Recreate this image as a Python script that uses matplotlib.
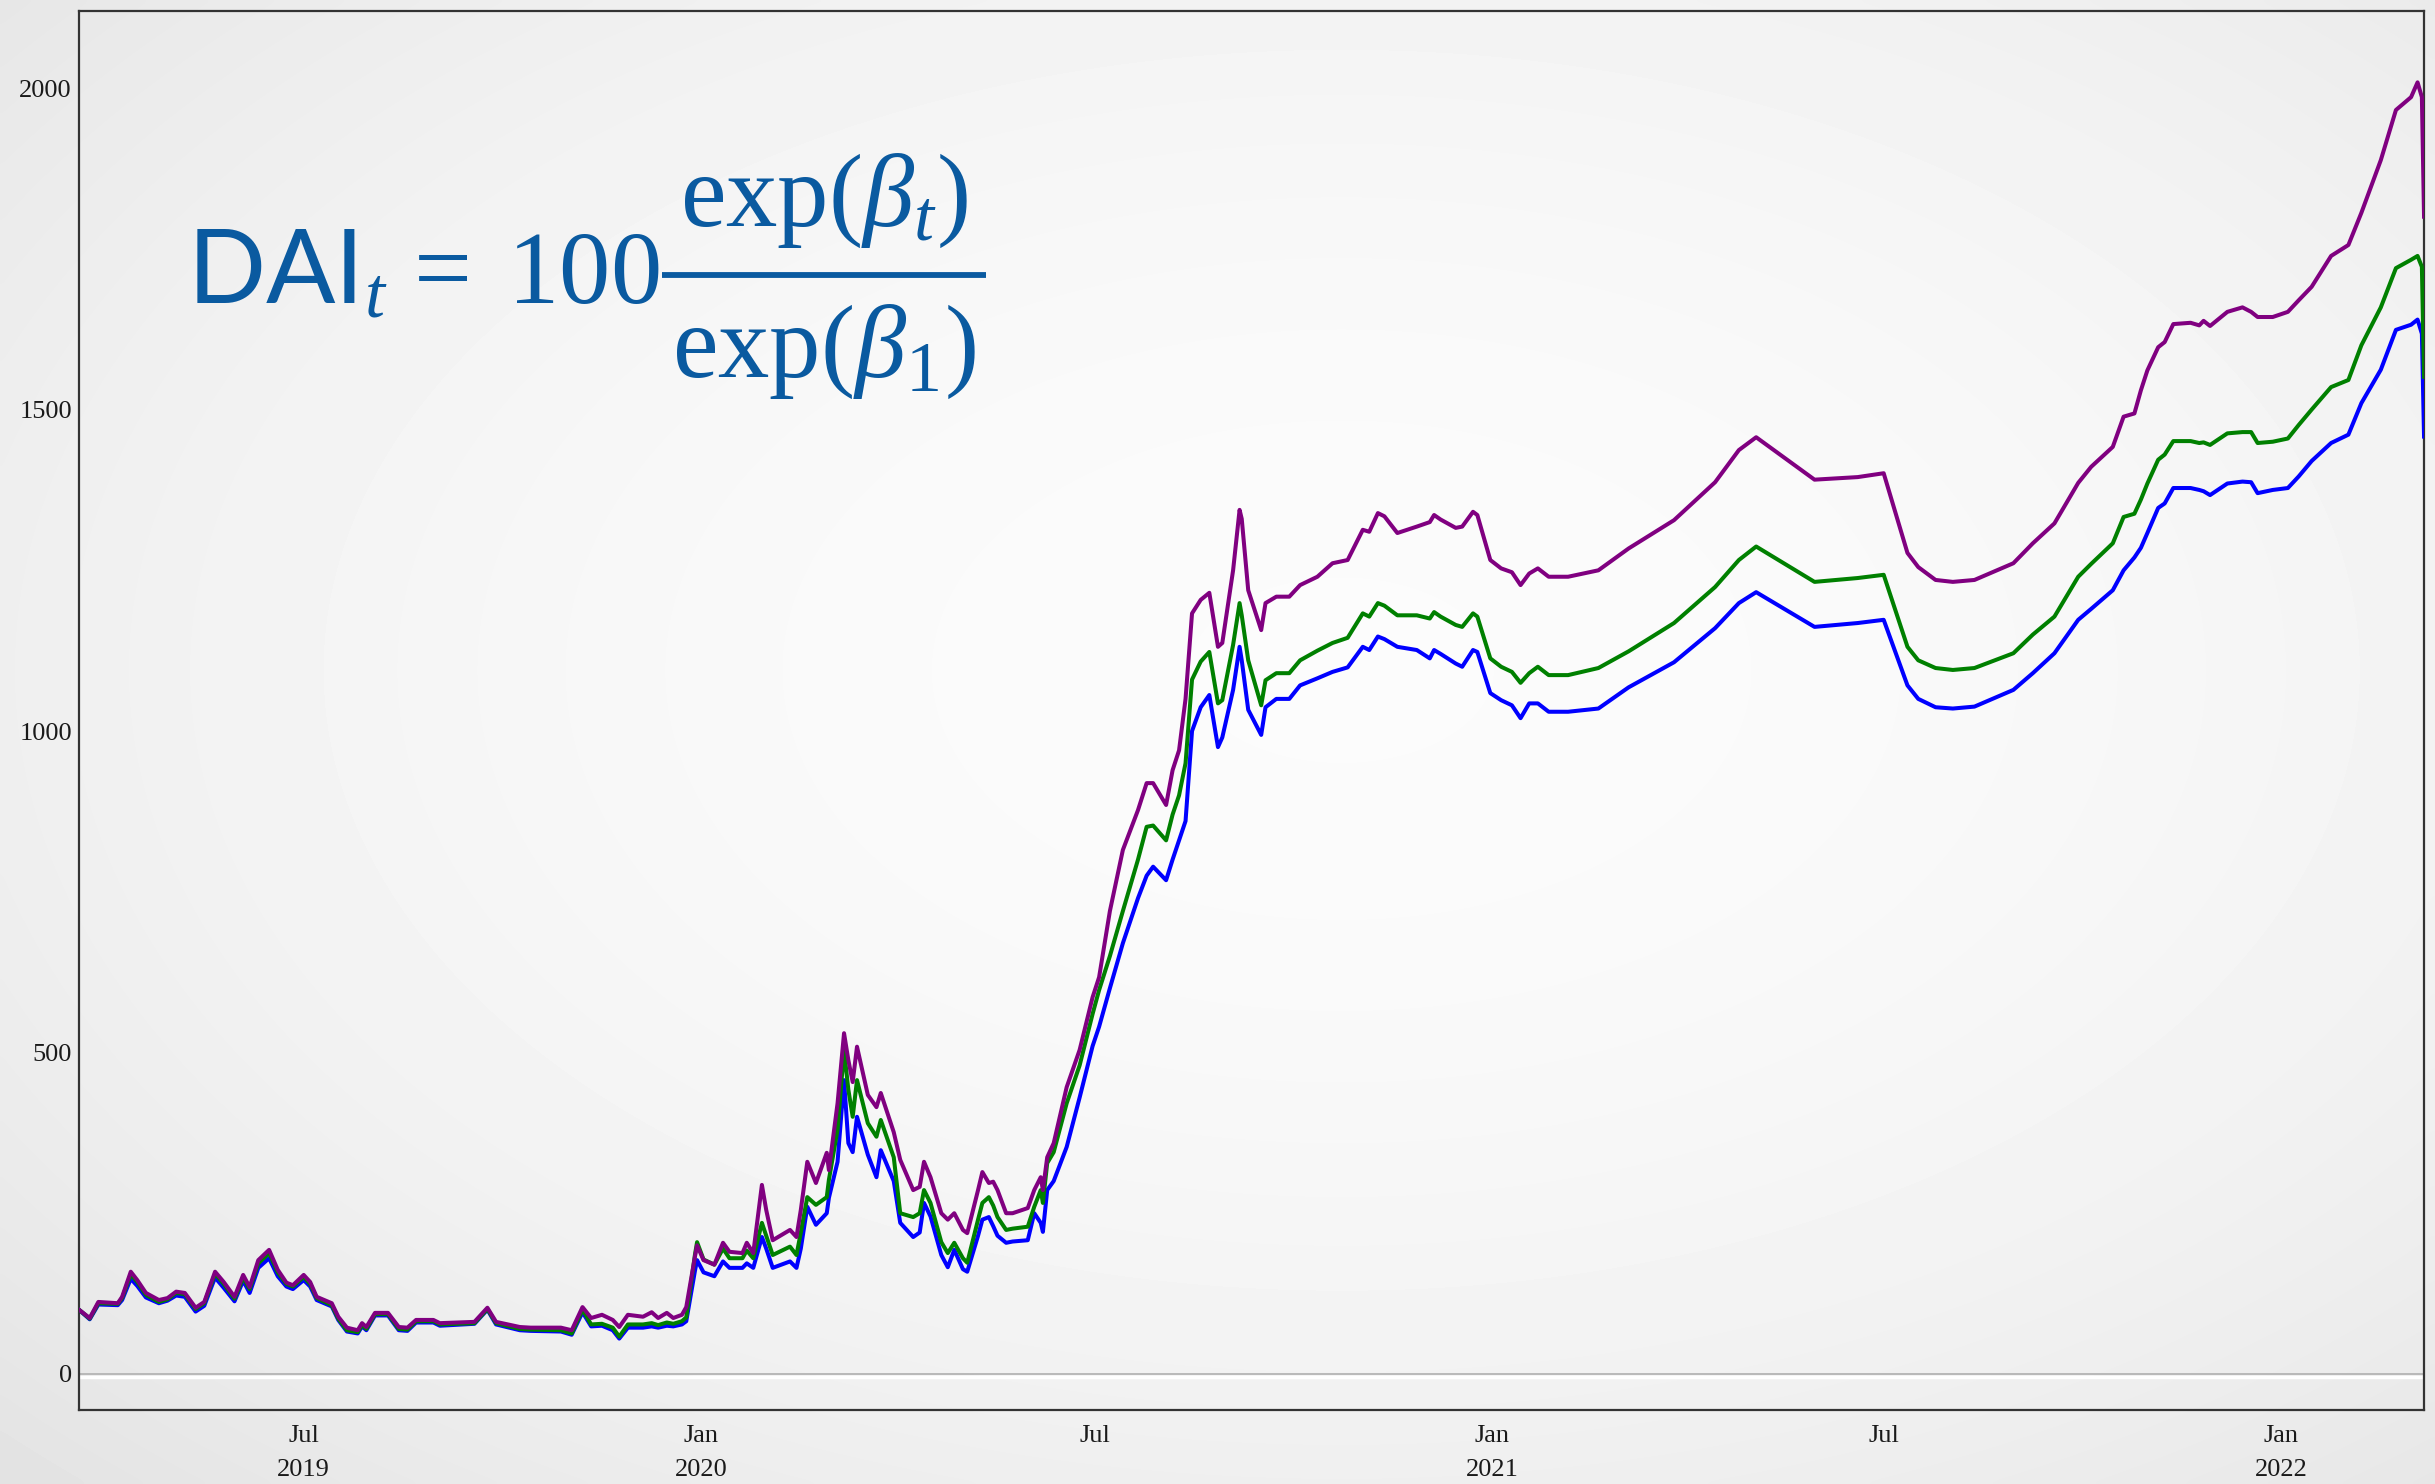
import matplotlib
matplotlib.use("Agg")
import matplotlib.pyplot as plt
import matplotlib.patheffects as pe
from matplotlib.lines import Line2D
import numpy as np
import pandas as pd

# DAI index (purple / green / blue series)
dates = [
    "2019-03-19", "2019-03-24", "2019-03-28", "2019-04-06", "2019-04-08", "2019-04-12",
    "2019-04-15", "2019-04-19", "2019-04-25", "2019-04-29", "2019-05-03", "2019-05-07",
    "2019-05-12", "2019-05-16", "2019-05-21", "2019-05-25", "2019-05-30", "2019-06-03",
    "2019-06-06", "2019-06-10", "2019-06-15", "2019-06-19", "2019-06-23", "2019-06-26",
    "2019-07-01", "2019-07-04", "2019-07-07", "2019-07-14", "2019-07-17", "2019-07-21",
    "2019-07-26", "2019-07-28", "2019-07-30", "2019-08-03", "2019-08-09", "2019-08-14",
    "2019-08-18", "2019-08-22", "2019-08-30", "2019-09-02", "2019-09-18", "2019-09-24",
    "2019-09-28", "2019-10-09", "2019-10-14", "2019-10-28", "2019-11-02", "2019-11-07",
    "2019-11-11", "2019-11-16", "2019-11-21", "2019-11-24", "2019-11-28", "2019-12-05",
    "2019-12-09", "2019-12-12", "2019-12-16", "2019-12-19", "2019-12-23", "2019-12-25",
    "2019-12-29", "2019-12-30", "2020-01-02", "2020-01-07", "2020-01-11", "2020-01-14",
    "2020-01-20", "2020-01-22", "2020-01-25", "2020-01-29", "2020-01-31", "2020-02-03",
    "2020-02-11", "2020-02-14", "2020-02-16", "2020-02-19", "2020-02-23", "2020-02-28",
    "2020-02-29", "2020-03-04", "2020-03-07", "2020-03-09", "2020-03-11", "2020-03-13",
    "2020-03-18", "2020-03-22", "2020-03-24", "2020-03-30", "2020-04-02", "2020-04-08",
    "2020-04-11", "2020-04-13", "2020-04-16", "2020-04-21", "2020-04-24", "2020-04-27",
    "2020-05-01", "2020-05-03", "2020-05-08", "2020-05-10", "2020-05-13", "2020-05-15",
    "2020-05-17", "2020-05-21", "2020-05-24", "2020-05-31", "2020-06-03", "2020-06-06",
    "2020-06-07", "2020-06-09", "2020-06-12", "2020-06-18", "2020-06-24", "2020-06-30",
    "2020-07-03", "2020-07-08", "2020-07-14", "2020-07-21", "2020-07-25", "2020-07-28",
    "2020-08-03", "2020-08-06", "2020-08-09", "2020-08-12", "2020-08-15", "2020-08-19",
    "2020-08-23", "2020-08-27", "2020-08-29", "2020-09-03", "2020-09-06", "2020-09-07",
    "2020-09-10", "2020-09-16", "2020-09-18", "2020-09-23", "2020-09-29", "2020-10-04",
    "2020-10-12", "2020-10-19", "2020-10-26", "2020-11-02", "2020-11-05", "2020-11-09",
    "2020-11-12", "2020-11-18", "2020-11-27", "2020-12-03", "2020-12-05", "2020-12-08",
    "2020-12-15", "2020-12-18", "2020-12-23", "2020-12-25", "2020-12-31", "2021-01-05",
    "2021-01-10", "2021-01-14", "2021-01-18", "2021-01-22", "2021-01-27", "2021-02-05",
    "2021-02-19", "2021-03-05", "2021-03-26", "2021-04-14", "2021-04-25", "2021-05-03",
    "2021-05-30", "2021-06-19", "2021-07-01", "2021-07-12", "2021-07-17", "2021-07-25",
    "2021-08-02", "2021-08-12", "2021-08-30", "2021-09-08", "2021-09-18", "2021-09-29",
    "2021-10-05", "2021-10-15", "2021-10-20", "2021-10-25", "2021-10-28", "2021-10-31",
    "2021-11-05", "2021-11-08", "2021-11-12", "2021-11-20", "2021-11-24", "2021-11-26",
    "2021-11-29", "2021-12-07", "2021-12-14", "2021-12-18", "2021-12-21", "2021-12-28",
    "2022-01-04", "2022-01-09", "2022-01-15", "2022-01-24", "2022-02-01", "2022-02-07",
    "2022-02-16", "2022-02-23", "2022-03-02", "2022-03-05", "2022-03-07", "2022-03-08",
]

dai_purple = [
    100, 87, 112, 110, 120, 159, 146, 126, 115, 118, 128, 126,
    103, 112, 159, 143, 120, 154, 135, 177, 193, 162, 142, 138,
    154, 143, 120, 110, 89, 72, 68, 79, 73, 95, 95, 73,
    72, 84, 84, 79, 81, 103, 81, 73, 72, 72, 68, 104,
    87, 92, 84, 73, 92, 89, 96, 87, 95, 87, 92, 104,
    182, 200, 177, 170, 204, 190, 188, 204, 188, 294, 255, 208,
    224, 213, 255, 330, 297, 344, 317, 421, 530, 488, 454, 509,
    434, 415, 437, 376, 333, 286, 291, 330, 306, 250, 240, 250,
    224, 219, 286, 314, 297, 299, 286, 250, 250, 258, 286, 306,
    286, 337, 359, 446, 504, 586, 617, 720, 815, 877, 919, 919,
    885, 939, 970, 1050, 1183, 1204, 1215, 1131, 1137, 1250, 1344, 1330,
    1219, 1157, 1199, 1209, 1209, 1227, 1240, 1261, 1266, 1313, 1310, 1339,
    1334, 1308, 1318, 1325, 1336, 1329, 1316, 1318, 1341, 1336, 1266, 1253,
    1247, 1227, 1245, 1253, 1240, 1240, 1250, 1284, 1328, 1387, 1437, 1457,
    1391, 1395, 1401, 1277, 1255, 1235, 1232, 1235, 1261, 1292, 1323, 1386,
    1411, 1442, 1489, 1494, 1530, 1561, 1597, 1605, 1633, 1635, 1631, 1638,
    1630, 1652, 1659, 1652, 1644, 1644, 1652, 1670, 1691, 1739, 1756, 1806,
    1888, 1966, 1986, 2009, 1986, 1800,
]

dai_green = [
    100, 86, 110, 109, 118, 155, 143, 123, 112, 116, 126, 124,
    101, 110, 156, 140, 117, 150, 132, 172, 188, 158, 140, 136,
    151, 140, 118, 107, 86, 68, 65, 76, 70, 93, 93, 70,
    69, 82, 82, 77, 79, 101, 79, 70, 69, 68, 63, 100,
    77, 78, 72, 58, 77, 77, 79, 76, 80, 78, 82, 88,
    185, 205, 178, 170, 195, 180, 180, 192, 180, 235, 215, 185,
    198, 185, 220, 275, 263, 275, 302, 380, 504, 442, 400, 457,
    390, 369, 395, 337, 250, 244, 250, 286, 266, 205, 188, 204,
    180, 173, 240, 266, 275, 262, 244, 224, 226, 229, 260, 286,
    266, 328, 345, 421, 480, 560, 597, 650, 720, 800, 851, 853,
    830, 870, 900, 950, 1080, 1108, 1123, 1043, 1048, 1134, 1199, 1180,
    1110, 1040, 1079, 1090, 1090, 1110, 1125, 1137, 1145, 1183, 1178, 1199,
    1195, 1180, 1180, 1175, 1185, 1178, 1165, 1162, 1183, 1178, 1113, 1100,
    1092, 1075, 1090, 1100, 1087, 1087, 1098, 1124, 1168, 1224, 1266, 1287,
    1232, 1238, 1243, 1131, 1110, 1098, 1095, 1098, 1121, 1150, 1178, 1240,
    1260, 1292, 1333, 1338, 1360, 1385, 1422, 1430, 1451, 1451, 1448, 1449,
    1445, 1463, 1465, 1465, 1448, 1450, 1455, 1476, 1500, 1535, 1546, 1600,
    1659, 1720, 1733, 1739, 1722, 1551,
]

dai_blue = [
    100, 85, 108, 107, 115, 148, 137, 119, 110, 114, 122, 120,
    97, 106, 150, 134, 113, 145, 126, 165, 180, 152, 136, 132,
    146, 136, 115, 105, 84, 66, 63, 74, 68, 91, 91, 68,
    67, 80, 80, 75, 78, 100, 77, 68, 67, 66, 61, 96,
    74, 75, 68, 55, 72, 72, 74, 72, 75, 74, 77, 82,
    160, 177, 158, 152, 175, 165, 165, 172, 165, 213, 195, 165,
    175, 165, 195, 260, 232, 250, 274, 330, 457, 359, 345, 400,
    341, 306, 348, 300, 235, 213, 220, 266, 245, 185, 166, 193,
    163, 159, 215, 240, 244, 230, 215, 204, 206, 208, 250, 235,
    221, 286, 300, 353, 430, 510, 540, 600, 670, 740, 775, 789,
    768, 800, 830, 860, 1000, 1037, 1056, 975, 990, 1064, 1131, 1110,
    1033, 994, 1037, 1050, 1050, 1071, 1082, 1092, 1099, 1131, 1126, 1147,
    1143, 1131, 1126, 1113, 1126, 1120, 1105, 1100, 1126, 1123, 1059, 1048,
    1040, 1020, 1043, 1043, 1030, 1030, 1035, 1068, 1107, 1160, 1199, 1216,
    1162, 1168, 1173, 1071, 1050, 1037, 1035, 1038, 1064, 1090, 1121, 1173,
    1190, 1219, 1250, 1270, 1285, 1308, 1347, 1354, 1378, 1378, 1375, 1373,
    1367, 1385, 1388, 1387, 1370, 1375, 1378, 1396, 1420, 1448, 1461, 1510,
    1562, 1624, 1632, 1640, 1618, 1458,
]

tick_dates = ["2019-07-01", "2020-01-01", "2020-07-01", "2021-01-01", "2021-07-01", "2022-01-01"]
tick_labels = ["Jul\n2019", "Jan\n2020", "Jul", "Jan\n2021", "Jul", "Jan\n2022"]
y_ticks = [0, 500, 1000, 1500, 2000]

# serif maths with an upright sans "DAI"
plt.rcParams['mathtext.fontset'] = 'custom'
plt.rcParams['mathtext.rm'] = 'Liberation Serif'
plt.rcParams['mathtext.it'] = 'Liberation Serif:italic'
plt.rcParams['mathtext.bf'] = 'Liberation Serif:bold'
plt.rcParams['mathtext.sf'] = 'Lato'

fig = plt.figure(figsize=(24.35, 14.84), dpi=100)

# slide-like radial grey background
bg = fig.add_axes([0, 0, 1, 1], zorder=-10)
h, w = 300, 490
yy, xx = np.mgrid[0:h, 0:w]
r2 = ((xx / w - 0.55) / 0.75) ** 2 + ((yy / h - 0.45) / 0.75) ** 2
shade = np.clip(0.985 - 0.09 * r2, 0, 1)
bg.imshow(shade, cmap='gray', vmin=0, vmax=1, aspect='auto', interpolation='bicubic')
bg.axis('off')

ax = fig.add_axes([0.0324, 0.0499, 0.9631, 0.9427])
ax.set_facecolor('none')

x = pd.to_datetime(dates)
ax.axhline(0, color='#b4b4b4', lw=1.3, zorder=1,
           path_effects=[pe.SimpleLineShadow(offset=(0, -2.2), shadow_color='white', alpha=1.0, rho=1.0,
                                             linewidth=2.5),
                         pe.Normal()])
ax.plot(x, dai_blue, color='#0000ff', lw=2.9, zorder=3)
ax.plot(x, dai_green, color='#008000', lw=2.9, zorder=4)
ax.plot(x, dai_purple, color='#800080', lw=2.9, zorder=5)

ax.set_xlim(x[0], x[-1])
ax.set_ylim(-56, 2120)
ax.set_yticks(y_ticks)
ax.set_yticklabels([str(v) for v in y_ticks])
ax.set_xticks(pd.to_datetime(tick_dates))
ax.set_xticklabels(tick_labels, linespacing=1.7)
ax.tick_params(axis='both', length=0, labelsize=19, labelcolor='#1a1a1a')
ax.tick_params(axis='x', pad=11)
ax.tick_params(axis='y', pad=5)
for lab in ax.get_xticklabels() + ax.get_yticklabels():
    lab.set_fontfamily('Liberation Serif')

for s in ax.spines.values():
    s.set_color('#333333')
    s.set_linewidth(1.6)

# formula: left part, then numerator / bar / denominator laid out by hand
eq_color = '#0a5aa0'
lhs = fig.text(0.077, 0.796, r'$\mathsf{DAI}_t\,=\;100$', fontsize=74, color=eq_color,
               ha='left', va='baseline')
num = fig.text(0, 0.848, r'$\exp(\beta_t)$', fontsize=74, color=eq_color, ha='center', va='baseline')
den = fig.text(0, 0.746, r'$\exp(\beta_1)$', fontsize=74, color=eq_color, ha='center', va='baseline')
fig.canvas.draw()
rend = fig.canvas.get_renderer()
fw = fig.bbox.width
bar_x0 = lhs.get_window_extent(rend).x1 + 2
bar_w = max(num.get_window_extent(rend).width, den.get_window_extent(rend).width) + 20
xc = (bar_x0 + bar_w / 2) / fw
num.set_x(xc)
den.set_x(xc)
fig.add_artist(Line2D([bar_x0 / fw, (bar_x0 + bar_w) / fw], [0.8147, 0.8147],
                      transform=fig.transFigure, color=eq_color, lw=4.2, solid_capstyle='butt'))

fig.savefig('out.png', dpi=100)
